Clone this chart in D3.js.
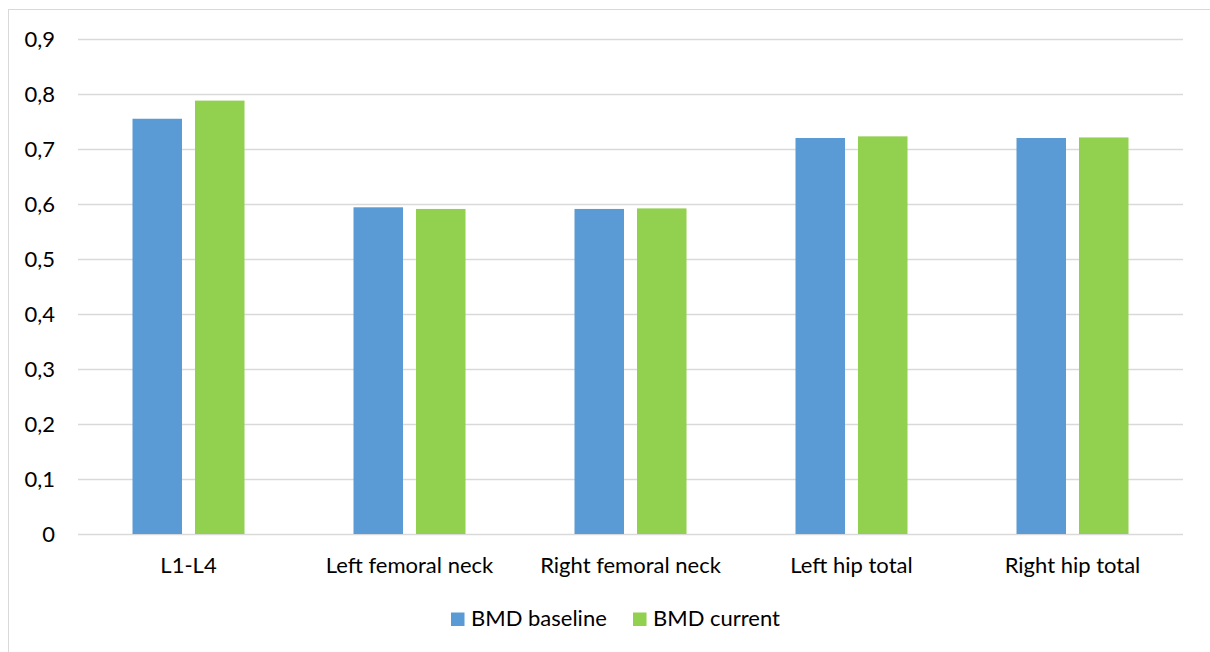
<!DOCTYPE html>
<html>
<head>
<meta charset="utf-8">
<script src="https://cdn.jsdelivr.net/npm/d3@7"></script>
<style>
  html, body { margin: 0; padding: 0; background: #fff; }
  svg { display: block; }
  text { font-family: Lato, "Open Sans", sans-serif; fill: #000; }
</style>
</head>
<body>
<svg id="chart" width="1210" height="652"></svg>
<script>
// Bone mineral density by measurement site
const categories = ["L1-L4", "Left femoral neck", "Right femoral neck", "Left hip total", "Right hip total"];
const seriesNames = ["BMD baseline", "BMD current"];
const baseline = [0.755, 0.594, 0.591, 0.720, 0.720];
const current = [0.788, 0.591, 0.592, 0.723, 0.721];
const yTicks = [0, 0.1, 0.2, 0.3, 0.4, 0.5, 0.6, 0.7, 0.8, 0.9];
const colors = ["#5B9BD5", "#92D050"];

const svg = d3.select("#chart");
const W = 1210, H = 652;
const fontSize = 22;

// chart frame
svg.append("rect")
  .attr("x", 8.5).attr("y", 9.5)
  .attr("width", W).attr("height", H)
  .attr("fill", "#fff").attr("stroke", "#d9d9d9").attr("stroke-width", 1);

const plot = { left: 78, right: 1183, top: 39, bottom: 534 };

const x = d3.scaleBand().domain(categories).range([plot.left, plot.right]).padding(0);
const y = d3.scaleLinear().domain([0, 0.9]).range([plot.bottom, plot.top]);

// gridlines
svg.append("g")
  .selectAll("line")
  .data(yTicks)
  .join("line")
  .attr("x1", plot.left).attr("x2", plot.right)
  .attr("y1", d => Math.round(y(d)) + 0.5).attr("y2", d => Math.round(y(d)) + 0.5)
  .attr("stroke", "#d9d9d9").attr("stroke-width", 1.3);

// y axis labels
const fmt = d => d === 0 ? "0" : d3.format(".1f")(d).replace(".", ",");
const yAxis = d3.axisLeft(y).tickValues(yTicks).tickFormat(fmt).tickSize(0).tickPadding(0);
const yg = svg.append("g").attr("transform", `translate(${55},0)`).call(yAxis);
yg.select(".domain").remove();
yg.selectAll("text")
  .attr("font-size", fontSize).attr("font-family", "Lato, sans-serif")
  .attr("fill", "#000").attr("dy", "0.36em");

// bars: two bars per category, 49.5px wide with a 13px gap, centred in the band
const pairWidth = 112;
const subLeft = (x.bandwidth() - pairWidth) / 2;
const sub = d3.scaleBand().domain(seriesNames)
  .range([subLeft, subLeft + pairWidth]).paddingInner(0.208).paddingOuter(0);
const rows = categories.map((c, i) => ({ cat: c, vals: [baseline[i], current[i]] }));

const groups = svg.append("g").selectAll("g")
  .data(rows).join("g")
  .attr("transform", d => `translate(${x(d.cat)},0)`);

groups.selectAll("rect")
  .data(d => d.vals.map((v, j) => ({ name: seriesNames[j], v, j })))
  .join("rect")
  .attr("x", d => sub(d.name))
  .attr("width", sub.bandwidth())
  .attr("y", d => y(d.v))
  .attr("height", d => y(0) - y(d.v))
  .attr("fill", d => colors[d.j]);

// x axis labels
const xAxis = d3.axisBottom(x).tickSize(0).tickPadding(0);
const xg = svg.append("g").attr("transform", `translate(0,573)`).call(xAxis);
xg.select(".domain").remove();
xg.selectAll("text")
  .attr("font-size", fontSize).attr("font-family", "Lato, sans-serif")
  .attr("fill", "#000").attr("y", 0).attr("dy", 0);

// legend
const legend = svg.append("g");
const legendItems = [{ name: seriesNames[0], x: 451 }, { name: seriesNames[1], x: 633 }];
legendItems.forEach((it, i) => {
  legend.append("rect")
    .attr("x", it.x).attr("y", 612.5).attr("width", 13.5).attr("height", 13.5)
    .attr("fill", colors[i]);
  legend.append("text")
    .attr("x", it.x + 20).attr("y", 626)
    .attr("font-size", fontSize)
    .text(it.name);
});
</script>
</body>
</html>
